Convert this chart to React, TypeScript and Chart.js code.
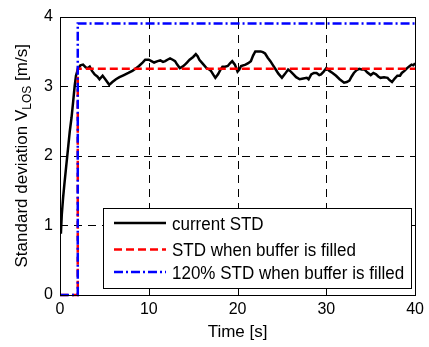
import React, { useEffect, useRef } from 'react';
import { Chart, registerables } from 'chart.js';
Chart.register(...registerables);

// ---------------- data ----------------
const timeS = [
  0.1, 0.2, 0.35, 0.5, 0.7, 0.9, 1.1, 1.3, 1.5, 1.65, 1.8, 2.0, 2.3, 2.6, 2.9, 3.15, 3.35, 3.6, 3.9, 4.2,
  4.45, 4.8, 5.1, 5.55, 5.9, 6.3, 6.7, 7.2, 7.7, 8.15, 8.5, 8.9, 9.3, 9.6, 10.0, 10.3, 10.6, 11.0, 11.3, 11.6,
  11.85, 12.1, 12.4, 12.7, 12.96, 13.2, 13.5, 13.8, 14.07, 14.3, 14.6, 15.0, 15.3, 15.5, 15.7, 16.1, 16.5, 16.8, 17.0, 17.3,
  17.5, 17.8, 18.05, 18.3, 18.6, 18.9, 19.15, 19.4, 19.7, 20.0, 20.2, 20.4, 20.9, 21.2, 21.5, 21.75, 22.0, 22.3, 22.6, 22.85,
  23.1, 23.4, 23.7, 24.0, 24.3, 24.6, 25.0, 25.3, 25.7, 26.0, 26.3, 26.6, 27.0, 27.4, 27.8, 28.0, 28.3, 28.6, 28.9, 29.2,
  29.4, 29.7, 30.0, 30.35, 30.7, 31.1, 31.5, 32.0, 32.3, 32.6, 32.85, 33.1, 33.4, 33.7, 34.0, 34.3, 34.6, 35.0, 35.3, 35.6,
  35.85, 36.1, 36.5, 36.9, 37.1, 37.4, 37.7, 38.0, 38.3, 38.5, 38.8, 39.1, 39.4, 39.6, 39.8, 40.0,
];
const currentStd = [
  0.88, 1.15, 1.4, 1.6, 1.85, 2.1, 2.35, 2.55, 2.8, 3.0, 3.15, 3.24, 3.30, 3.31, 3.27, 3.26, 3.28, 3.22, 3.17, 3.14,
  3.10, 3.15, 3.10, 3.02, 3.06, 3.10, 3.13, 3.16, 3.19, 3.22, 3.25, 3.29, 3.34, 3.38, 3.38, 3.36, 3.34, 3.36, 3.37, 3.35,
  3.36, 3.38, 3.40, 3.38, 3.36, 3.31, 3.26, 3.28, 3.31, 3.34, 3.38, 3.42, 3.46, 3.43, 3.38, 3.32, 3.26, 3.24, 3.22, 3.16,
  3.12, 3.17, 3.23, 3.28, 3.28, 3.29, 3.33, 3.36, 3.31, 3.21, 3.24, 3.29, 3.31, 3.33, 3.36, 3.44, 3.50, 3.50, 3.50, 3.49,
  3.47, 3.41, 3.36, 3.30, 3.24, 3.18, 3.12, 3.17, 3.24, 3.21, 3.17, 3.13, 3.10, 3.11, 3.12, 3.10, 3.17, 3.19, 3.19, 3.16,
  3.17, 3.21, 3.26, 3.22, 3.19, 3.15, 3.10, 3.05, 3.06, 3.08, 3.14, 3.19, 3.23, 3.25, 3.24, 3.24, 3.20, 3.16, 3.19, 3.17,
  3.14, 3.12, 3.13, 3.12, 3.09, 3.06, 3.11, 3.15, 3.15, 3.19, 3.22, 3.26, 3.29, 3.31, 3.30, 3.33,
];
const stepTime = [0, 2, 2, 40];
const filledStd = [0, 0, 3.25, 3.25];
const filledStd120 = [0, 0, 3.9, 3.9];

const xTicks = [0, 10, 20, 30, 40];
const yTicks = [0, 1, 2, 3, 4];
const legendLabels = ['current STD', 'STD when buffer is filled', '120% STD when buffer is filled'];
const xTitle = 'Time [s]';
const yTitleMain = 'Standard deviation V';
const yTitleSub = 'LOS';
const yTitleEnd = ' [m/s]';

const FONT = "'Liberation Sans', Arial, sans-serif";

const matlabPlugin = {
  id: 'matlabFrame',
  beforeDatasetsDraw(chart: any) {
    const { ctx, chartArea: a, scales } = chart;
    const xs = scales.x, ys = scales.y;
    ctx.save();
    ctx.strokeStyle = '#000';
    ctx.lineWidth = 1;
    ctx.setLineDash([8, 6]);
    xTicks.slice(1, -1).forEach((v) => {
      const px = Math.round(xs.getPixelForValue(v)) + 0.5;
      ctx.beginPath();
      ctx.moveTo(px, a.bottom);
      ctx.lineTo(px, a.top);
      ctx.stroke();
    });
    yTicks.slice(1, -1).forEach((v) => {
      const py = Math.round(ys.getPixelForValue(v)) + 0.5;
      ctx.beginPath();
      ctx.moveTo(a.left, py);
      ctx.lineTo(a.right, py);
      ctx.stroke();
    });
    ctx.restore();
  },
  afterDatasetsDraw(chart: any) {
    const { ctx, chartArea: a, scales } = chart;
    const xs = scales.x, ys = scales.y;
    ctx.save();
    ctx.setLineDash([]);
    ctx.strokeStyle = '#000';
    ctx.lineWidth = 1;
    const L = Math.round(a.left) + 0.5, R = Math.round(a.right) + 0.5;
    const T = Math.round(a.top) + 0.5, B = Math.round(a.bottom) + 0.5;
    ctx.strokeRect(L, T, R - L, B - T);
    const tl = 4;
    ctx.beginPath();
    xTicks.forEach((v) => {
      const px = Math.round(xs.getPixelForValue(v)) + 0.5;
      ctx.moveTo(px, B); ctx.lineTo(px, B - tl);
      ctx.moveTo(px, T); ctx.lineTo(px, T + tl);
    });
    yTicks.forEach((v) => {
      const py = Math.round(ys.getPixelForValue(v)) + 0.5;
      ctx.moveTo(L, py); ctx.lineTo(L + tl, py);
      ctx.moveTo(R, py); ctx.lineTo(R - tl, py);
    });
    ctx.stroke();

    // legend
    const bx = 103.5, by = 208.5, bw = 308, bh = 80;
    ctx.fillStyle = '#fff';
    ctx.fillRect(bx, by, bw, bh);
    ctx.strokeStyle = '#000';
    ctx.lineWidth = 1;
    ctx.strokeRect(bx, by, bw, bh);
    const rows = [223, 249.5, 272];
    chart.data.datasets.forEach((ds: any, i: number) => {
      const y = rows[i];
      ctx.save();
      ctx.strokeStyle = ds.borderColor;
      ctx.lineWidth = ds.borderWidth;
      ctx.setLineDash(ds.borderDash || []);
      ctx.beginPath();
      ctx.moveTo(114, y);
      ctx.lineTo(166, y);
      ctx.stroke();
      ctx.restore();
      ctx.save();
      ctx.translate(172, y);
      ctx.scale(1, 1.1);
      ctx.fillStyle = '#000';
      ctx.font = `17px ${FONT}`;
      ctx.textBaseline = 'alphabetic';
      ctx.textAlign = 'left';
      ctx.fillText(legendLabels[i], 0, 6);
      ctx.restore();
    });
    ctx.restore();
  },
  afterDraw(chart: any) {
    const { ctx, chartArea: a } = chart;
    ctx.save();
    const cy = (a.top + a.bottom) / 2;
    ctx.translate(27, cy);
    ctx.rotate(-Math.PI / 2);
    ctx.scale(1.0, 1);
    ctx.fillStyle = '#000';
    ctx.textBaseline = 'alphabetic';
    ctx.textAlign = 'left';
    const big = `17px ${FONT}`, small = `12px ${FONT}`;
    ctx.font = big;
    const w1 = ctx.measureText(yTitleMain).width;
    const w3 = ctx.measureText(yTitleEnd).width;
    ctx.font = small;
    const w2 = ctx.measureText(yTitleSub).width;
    const total = w1 + w2 + w3;
    let x = -total / 2;
    ctx.font = big;
    ctx.fillText(yTitleMain, x, 0);
    x += w1;
    ctx.font = small;
    ctx.fillText(yTitleSub, x, 4);
    x += w2;
    ctx.font = big;
    ctx.fillText(yTitleEnd, x, 0);
    ctx.restore();
  },
};

export default function App() {
  const ref = useRef<HTMLCanvasElement>(null);
  useEffect(() => {
    if (!ref.current) return;
    const chart = new Chart(ref.current, {
      type: 'line',
      data: {
        datasets: [
          {
            label: legendLabels[0],
            data: timeS.map((t, i) => ({ x: t, y: currentStd[i] })),
            borderColor: '#000',
            borderWidth: 2.5,
            pointRadius: 0,
            tension: 0,
            order: 3,
          },
          {
            label: legendLabels[1],
            data: stepTime.map((t, i) => ({ x: t, y: filledStd[i] })),
            borderColor: '#ff0000',
            borderWidth: 2.5,
            borderDash: [8, 4],
            pointRadius: 0,
            tension: 0,
            clip: false,
            order: 2,
          },
          {
            label: legendLabels[2],
            data: stepTime.map((t, i) => ({ x: t, y: filledStd120[i] })),
            borderColor: '#0000ff',
            borderWidth: 2.5,
            borderDash: [9, 3, 2, 3],
            pointRadius: 0,
            tension: 0,
            clip: false,
            order: 1,
          },
        ],
      } as any,
      options: {
        animation: false,
        responsive: false,
        layout: { padding: { top: 9, right: 9, left: 0, bottom: 0 } },
        plugins: { legend: { display: false }, tooltip: { enabled: false } },
        scales: {
          x: {
            type: 'linear',
            min: 0,
            max: 40,
            afterFit: (s: any) => { s.height = 52; },
            afterBuildTicks: (s: any) => { s.ticks = xTicks.map((v) => ({ value: v })); },
            grid: { display: false, drawTicks: false },
            border: { display: false },
            ticks: { color: '#000', font: { size: 16, family: FONT }, padding: 5, maxRotation: 0, autoSkip: false },
            title: { display: true, text: xTitle, color: '#000', font: { size: 17, family: FONT } },
          },
          y: {
            type: 'linear',
            min: 0,
            max: 4,
            afterFit: (s: any) => { s.width = 60; },
            afterBuildTicks: (s: any) => { s.ticks = yTicks.map((v) => ({ value: v })); },
            grid: { display: false, drawTicks: false },
            border: { display: false },
            ticks: { color: '#000', font: { size: 16, family: FONT }, padding: 7 },
          },
        },
      } as any,
      plugins: [matlabPlugin],
    });
    return () => chart.destroy();
  }, []);
  return (
    <div style={{ position: 'fixed', left: 0, top: 0, width: 429, height: 347, background: '#fff' }}>
      <canvas ref={ref} width={429} height={347} style={{ display: 'block' }} />
    </div>
  );
}
